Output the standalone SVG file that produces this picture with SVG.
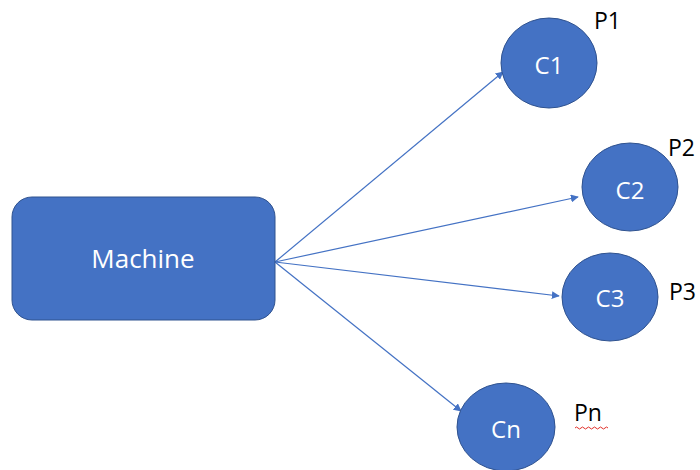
<svg xmlns="http://www.w3.org/2000/svg" width="700" height="470" viewBox="0 0 700 470">
  <defs>
    <marker id="arrow" viewBox="0 0 10 10" refX="9" refY="5" markerWidth="8" markerHeight="8" markerUnits="userSpaceOnUse" orient="auto">
      <path d="M0,0 L10,5 L0,10 z" fill="#4472C4"/>
    </marker>
    <style>
      .shape { fill: #4472C4; stroke: #2F528F; stroke-width: 1; }
      .inner { fill: #FFFFFF; font-family: "Open Sans", "Liberation Sans", sans-serif; text-anchor: middle; dominant-baseline: central; }
      .tag { fill: #000000; font-family: "Open Sans", "Liberation Sans", sans-serif; font-size: 23px; }
      .edge { stroke: #4472C4; stroke-width: 1.2; fill: none; marker-end: url(#arrow); }
    </style>
  </defs>
  <rect width="700" height="470" fill="#FFFFFF"/>

  <g id="connectors">
    <line class="edge" x1="275" y1="262" x2="503" y2="72"/>
    <line class="edge" x1="275" y1="262" x2="578" y2="197"/>
    <line class="edge" x1="275" y1="262" x2="559" y2="296"/>
    <line class="edge" x1="275" y1="262" x2="461" y2="411"/>
  </g>

  <g id="machine">
    <rect class="shape" x="12" y="197" width="263" height="123" rx="20" ry="20"/>
    <text class="inner" x="143" y="258" font-size="26">Machine</text>
  </g>

  <g id="c1">
    <ellipse class="shape" cx="549" cy="63" rx="48" ry="45"/>
    <text class="inner" x="549" y="64" font-size="24">C1</text>
  </g>
  <g id="c2">
    <ellipse class="shape" cx="630" cy="187" rx="48" ry="44"/>
    <text class="inner" x="630" y="189" font-size="24">C2</text>
  </g>
  <g id="c3">
    <ellipse class="shape" cx="610" cy="297" rx="48" ry="44"/>
    <text class="inner" x="610" y="297" font-size="24">C3</text>
  </g>
  <g id="cn">
    <ellipse class="shape" cx="506" cy="427" rx="49" ry="44"/>
    <text class="inner" x="506" y="428" font-size="24">Cn</text>
  </g>

  <g id="labels">
    <text class="tag" x="594" y="29">P1</text>
    <text class="tag" x="668" y="156">P2</text>
    <text class="tag" x="669" y="300">P3</text>
    <text class="tag" x="574" y="421">Pn</text>
    <!-- spell-check squiggle under Pn -->
    <path d="M575,428 q1.5,-2 3,0 t3,0 t3,0 t3,0 t3,0 t3,0 t3,0 t3,0 t3,0 t3,0 t3,0" fill="none" stroke="#E0302A" stroke-width="1"/>
  </g>
</svg>
